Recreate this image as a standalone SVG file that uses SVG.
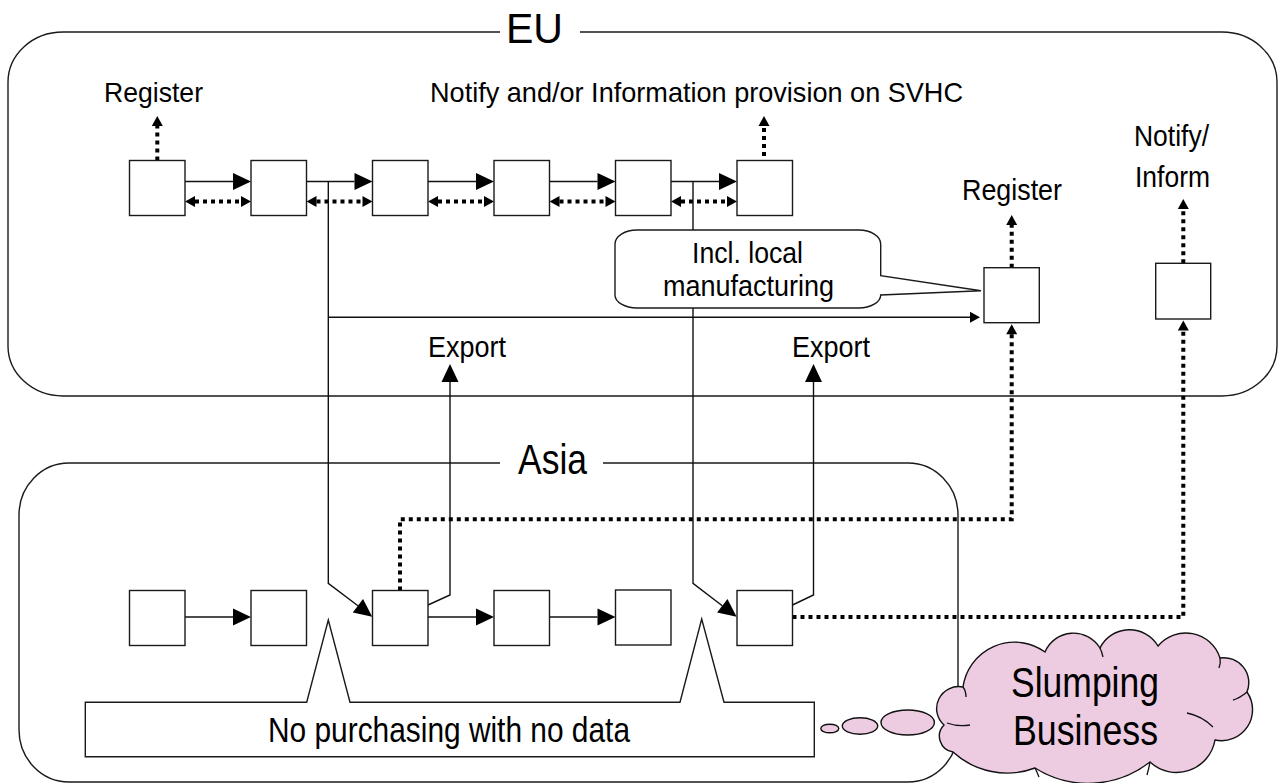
<svg xmlns="http://www.w3.org/2000/svg" width="1279" height="783" viewBox="0 0 1279 783">
<style>
.frame{fill:none;stroke:#1a1a1a;stroke-width:1.4}
.box{fill:#fff;stroke:#1a1a1a;stroke-width:1.4}
.ln{fill:none;stroke:#111;stroke-width:1.4}
.dot{fill:none;stroke:#000;stroke-width:4;stroke-dasharray:4 4}
.call{fill:#fff;stroke:#1a1a1a;stroke-width:1.4}
.pink{fill:#edcbe1;stroke:#111;stroke-width:1.4}
.inner{fill:none;stroke:#111;stroke-width:1.3}
text{font-family:"Liberation Sans",Arial,sans-serif;fill:#000}
</style>
<defs>
<marker id="big" markerUnits="userSpaceOnUse" markerWidth="20" markerHeight="20" refX="0" refY="0" orient="auto" overflow="visible"><path d="M0,-8.5 L18,0 L0,8.5 Z" fill="#000"/></marker>
<marker id="sm" markerUnits="userSpaceOnUse" markerWidth="12" markerHeight="12" refX="0" refY="0" orient="auto" overflow="visible"><path d="M0,-5.5 L10,0 L0,5.5 Z" fill="#000"/></marker>
<marker id="smS" markerUnits="userSpaceOnUse" markerWidth="12" markerHeight="12" refX="0" refY="0" orient="auto-start-reverse" overflow="visible"><path d="M0,-5.5 L10,0 L0,5.5 Z" fill="#000"/></marker>
</defs>

<g id="eu-region">
<path class="frame" d="M500,32 H63 A55,50 0 0 0 8,82 V346 A55,50 0 0 0 63,396 H1222 A55,50 0 0 0 1277,346 V82 A55,50 0 0 0 1222,32 H580"/>
<text x="506" y="43" font-size="42" textLength="57" lengthAdjust="spacingAndGlyphs">EU</text>
</g>
<g id="asia-region">
<path class="frame" d="M500,463 H69 A50,52 0 0 0 19,515 V730 A50,52 0 0 0 69,782 H908 A50,52 0 0 0 958,730 V515 A50,52 0 0 0 908,463 H603"/>
<text x="518" y="474" font-size="43" textLength="69" lengthAdjust="spacingAndGlyphs">Asia</text>
</g>

<g id="connectors">
<path class="ln" marker-end="url(#big)" d="M185,181.5 H233"/>
<path class="ln" marker-end="url(#big)" d="M306.5,181.5 H354.5"/>
<path class="ln" marker-end="url(#big)" d="M428,181.5 H476"/>
<path class="ln" marker-end="url(#big)" d="M549.5,181.5 H597.5"/>
<path class="ln" marker-end="url(#big)" d="M671,181.5 H719"/>
<path class="dot" marker-start="url(#smS)" marker-end="url(#sm)" d="M195,201.5 H241"/>
<path class="dot" marker-start="url(#smS)" marker-end="url(#sm)" d="M316.5,201.5 H362.5"/>
<path class="dot" marker-start="url(#smS)" marker-end="url(#sm)" d="M438,201.5 H484"/>
<path class="dot" marker-start="url(#smS)" marker-end="url(#sm)" d="M559.5,201.5 H605.5"/>
<path class="dot" marker-start="url(#smS)" marker-end="url(#sm)" d="M681,201.5 H727"/>
<path class="dot" marker-end="url(#sm)" d="M157.3,160.5 V126"/>
<path class="dot" marker-end="url(#sm)" d="M764,164 V126"/>
<path class="ln" marker-end="url(#big)" d="M328.3,181.5 V583.3 L357.9,605.8"/>
<path class="ln" marker-end="url(#big)" d="M693,181.5 V583.3 L722.3,605.8"/>
<path class="ln" marker-end="url(#sm)" d="M328.3,317.3 H970"/>
<path class="ln" marker-end="url(#big)" d="M428,605 L450,595 V382"/>
<path class="ln" marker-end="url(#big)" d="M792.5,605 L813.5,595 V382"/>
<path class="ln" marker-end="url(#big)" d="M185,617 H233"/>
<path class="ln" marker-end="url(#big)" d="M428,617 H476"/>
<path class="ln" marker-end="url(#big)" d="M549.5,617 H597.5"/>
<path class="dot" marker-end="url(#sm)" d="M400,590.5 V519.3 H1011.7 V334.3"/>
<path class="dot" marker-end="url(#sm)" d="M792.5,617 H1183.3 V330.5"/>
<path class="dot" marker-end="url(#sm)" d="M1011.7,267.7 V225"/>
<path class="dot" marker-end="url(#sm)" d="M1183.3,263.3 V209"/>
</g>

<g id="eu-n1"><rect class="box" x="129.5" y="160.5" width="55.5" height="55"/></g>
<g id="eu-n2"><rect class="box" x="251" y="160.5" width="55.5" height="55"/></g>
<g id="eu-n3"><rect class="box" x="372.5" y="160.5" width="55.5" height="55"/></g>
<g id="eu-n4"><rect class="box" x="494" y="160.5" width="55.5" height="55"/></g>
<g id="eu-n5"><rect class="box" x="615.5" y="160.5" width="55.5" height="55"/></g>
<g id="eu-n6"><rect class="box" x="737" y="160.5" width="55.5" height="55"/></g>
<g id="eu-register"><rect class="box" x="984" y="267.7" width="55.3" height="55"/></g>
<g id="eu-notify"><rect class="box" x="1155.7" y="263.3" width="55" height="55.7"/></g>
<g id="asia-n1"><rect class="box" x="129.5" y="590.5" width="55.5" height="55"/></g>
<g id="asia-n2"><rect class="box" x="251" y="590.5" width="55.5" height="55"/></g>
<g id="asia-n3"><rect class="box" x="372.5" y="590.5" width="55.5" height="55"/></g>
<g id="asia-n4"><rect class="box" x="494" y="590.5" width="55.5" height="55"/></g>
<g id="asia-n5"><rect class="box" x="615.5" y="590" width="55.5" height="55"/></g>
<g id="asia-n6"><rect class="box" x="737" y="590.5" width="55.5" height="55"/></g>

<g id="labels">
<text x="104" y="102" font-size="28" textLength="99" lengthAdjust="spacingAndGlyphs">Register</text>
<text x="430" y="102" font-size="28" textLength="533" lengthAdjust="spacingAndGlyphs">Notify and/or Information provision on SVHC</text>
<text x="962" y="200" font-size="29" textLength="100" lengthAdjust="spacingAndGlyphs">Register</text>
<text x="1134" y="146" font-size="30" textLength="75" lengthAdjust="spacingAndGlyphs">Notify/</text>
<text x="1135" y="187" font-size="30" textLength="75" lengthAdjust="spacingAndGlyphs">Inform</text>
<text x="428" y="357" font-size="30" textLength="78" lengthAdjust="spacingAndGlyphs">Export</text>
<text x="792" y="357" font-size="30" textLength="78" lengthAdjust="spacingAndGlyphs">Export</text>
</g>

<g id="callout-local">
<path class="call" d="M637,230 H858.7 A22,14 0 0 1 880.7,244 V275.7 L981,290.7 L880.7,295 A22,13 0 0 1 858.7,308 H637 A22,13 0 0 1 615,295 V244 A22,14 0 0 1 637,230 Z"/>
<text x="692" y="262.5" font-size="29" textLength="111" lengthAdjust="spacingAndGlyphs">Incl. local</text>
<text x="663" y="295.5" font-size="29" textLength="171" lengthAdjust="spacingAndGlyphs">manufacturing</text>
</g>

<g id="callout-nodata">
<path class="call" d="M85.3,702.3 H306.7 L328.3,620 L350,702.3 H680 L701.7,619 L724,702.3 H814.3 V756.7 H85.3 Z"/>
<text x="268" y="742" font-size="35" textLength="362" lengthAdjust="spacingAndGlyphs">No purchasing with no data</text>
</g>

<g id="thought-bubbles">
<ellipse class="pink" cx="829.8" cy="728.5" rx="9" ry="4.3"/>
<ellipse class="pink" cx="860" cy="726" rx="17.7" ry="8.2"/>
<ellipse class="pink" cx="907.7" cy="722.5" rx="26.7" ry="12.5"/>
</g>

<g id="cloud">
<path class="pink" d="M963,687 A52,52 0 0 1 1045,652 A31,31 0 0 1 1100,648 A33,33 0 0 1 1158,646 A36,36 0 0 1 1220,658 A25,25 0 0 1 1247,692 A31,31 0 0 1 1215,740 A39,39 0 0 1 1150,762 A100,100 0 0 1 1035,768 A80,80 0 0 1 953,752 A16,16 0 0 1 944,725 A22,22 0 0 1 963,687 Z"/>
<path class="inner" d="M963,687 Q966,691 966,697"/>
<path class="inner" d="M947,723 Q958,727 970,725"/>
<path class="inner" d="M1100,648 Q1102,652 1103,657"/>
<path class="inner" d="M1220,658 Q1221,663 1219,668"/>
<path class="inner" d="M1247,692 Q1240,698 1233,700"/>
<path class="inner" d="M1187,713 Q1202,716 1213,727"/>
<path class="inner" d="M1150,762 Q1149,768 1147,775"/>
<path class="inner" d="M1035,768 Q1037,772 1039,777"/>
<text x="1011" y="697" font-size="43" textLength="148" lengthAdjust="spacingAndGlyphs">Slumping</text>
<text x="1013" y="744.5" font-size="43" textLength="145" lengthAdjust="spacingAndGlyphs">Business</text>
</g>
</svg>
